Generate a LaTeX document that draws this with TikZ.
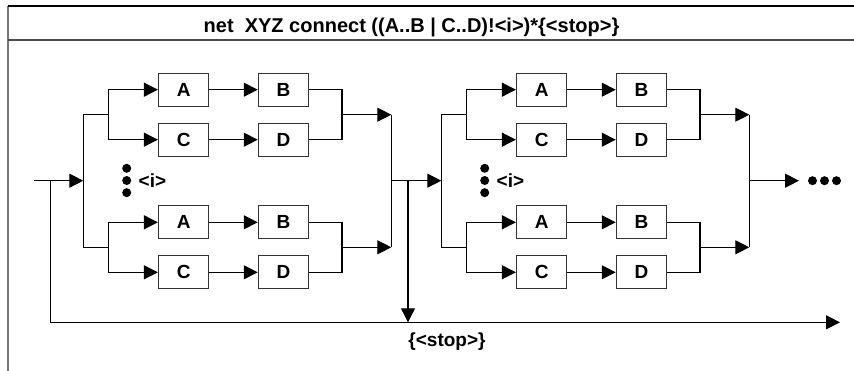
\documentclass[tikz,border=0pt]{standalone}
\usepackage{fontspec}
\setmainfont{Liberation Sans}
\usetikzlibrary{arrows.meta}
\begin{document}
\begin{tikzpicture}[x=1pt,y=-1pt,
  wire/.style={line width=1.1pt, draw=black},
  arr/.style={wire,-{Triangle[length=14pt,width=14pt]}},
  box/.style={draw=black!80, line width=1pt, minimum width=50.5pt, minimum height=33pt, inner sep=0pt, font=\fontsize{19}{19}\selectfont\bfseries},
  dot/.style={circle, fill=black, minimum size=9pt, inner sep=0pt},
  lbl/.style={font=\fontsize{19}{19}\selectfont\bfseries, inner sep=0pt}]
\useasboundingbox (0,0) rectangle (854,371);
% frame
\draw[line width=2pt, black!55] (8,6) -- (8,371);
\draw[line width=1.2pt] (8,6) -- (854,6);
\draw[line width=1.6pt, black!70] (8,40) -- (854,40);
\node[font=\fontsize{20}{20}\selectfont\bfseries, anchor=base, inner sep=0pt] (title) at (411.5,33) {net\ \ XYZ connect ((A..B | C..D)!<i>)*\{<stop>\}};
% groups
\foreach \g/\dx in {1/0,2/358}{
\begin{scope}[xshift=\dx pt]
  \foreach \s/\y in {t/114.7,b/247.3}{
    \node[box] (A\g\s) at (183.65,\y-25) {A};
    \node[box] (B\g\s) at (283.5,\y-25) {B};
    \node[box] (C\g\s) at (183.65,\y+25) {C};
    \node[box] (D\g\s) at (283.5,\y+25) {D};
    \coordinate (bi\g\s) at (83.3,\y);
    \coordinate (sp\g\s) at (108.7,\y);
    \coordinate (mg\g\s) at (342,\y);
    \coordinate (bo\g\s) at (391.3,\y);
    \draw[wire] (bi\g\s) -- (sp\g\s);
    \draw[arr] (sp\g\s) |- (A\g\s.west);
    \draw[arr] (sp\g\s) |- (C\g\s.west);
    \draw[arr] (A\g\s) -- (B\g\s);
    \draw[arr] (C\g\s) -- (D\g\s);
    \draw[wire] (B\g\s.east) -| (mg\g\s);
    \draw[wire] (D\g\s.east) -| (mg\g\s);
    \draw[arr] (mg\g\s) -- (bo\g\s);
  }
  \coordinate (in\g) at (83.3,180.7);
  \coordinate (out\g) at (391.3,180.7);
  \draw[wire] (bi\g t) -- (bi\g b);
  \draw[wire] (bo\g t) -- (bo\g b);
  \node[dot] (da\g) at (126.7,168.3) {};
  \node[dot] (db\g) at (126.7,180.5) {};
  \node[dot] (dc\g) at (126.7,192.7) {};
  \node[lbl, anchor=west] (il\g) at (138.5,180.7) {<i>};
\end{scope}
}
% main flow
\coordinate (start) at (34,180.7);
\coordinate (loop) at (50.7,180.7);
\coordinate (split) at (408,180.7);
\coordinate (splitend) at (408,322.3);
\coordinate (stopend) at (840,322.3);
\coordinate (contend) at (799,180.7);
\draw[arr] (start) -- (in1);
\draw[arr] (out1) -- (in2);
\draw[arr] (out2) -- (contend);
\draw[arr] (loop) |- (stopend);
\draw[arr] (split) -- (splitend);
\node[dot] (e1) at (812.5,180.7) {};
\node[dot] (e2) at (824.5,180.7) {};
\node[dot] (e3) at (836.5,180.7) {};
\node[lbl] (stoplbl) at (447,341.7) {\{<stop>\}};
\end{tikzpicture}
\end{document}
